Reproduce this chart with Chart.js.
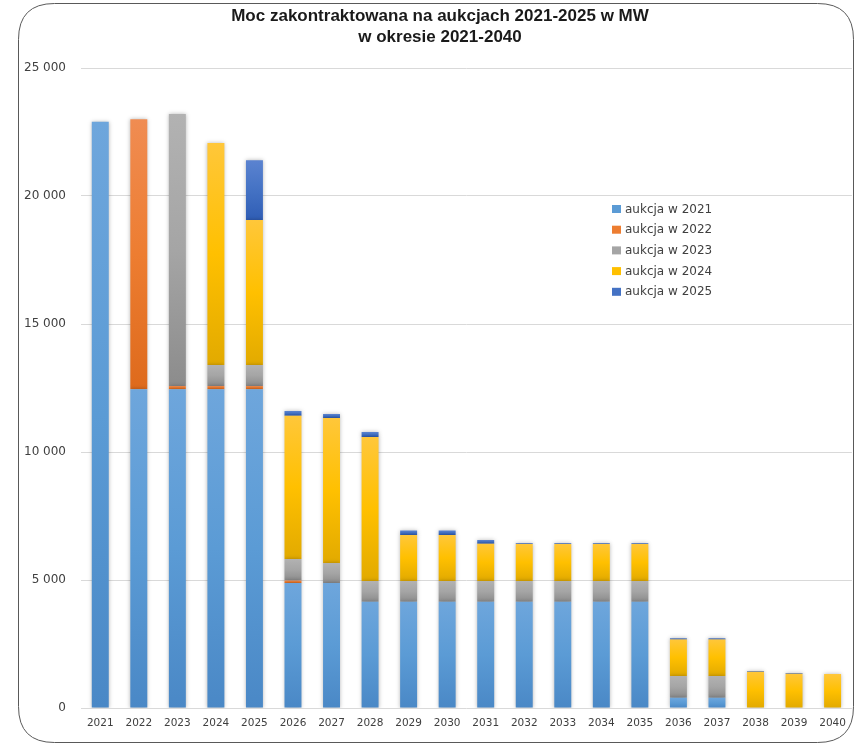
<!DOCTYPE html>
<html>
<head>
<meta charset="utf-8">
<script src="https://cdn.jsdelivr.net/npm/chart.js@4.4.1/dist/chart.umd.min.js"></script>
<style>
  html, body { margin: 0; padding: 0; background: #ffffff; }
  #wrap { width: 855px; height: 745px; position: relative; }
</style>
</head>
<body>
<div id="wrap"><canvas id="c" width="855" height="745"></canvas></div>
<script>
// Years on the x axis
const years = ['2021','2022','2023','2024','2025','2026','2027','2028','2029','2030',
               '2031','2032','2033','2034','2035','2036','2037','2038','2039','2040'];

// Contracted capacity (MW) by auction year
const auction2021 = [22900, 12450, 12450, 12450, 12450, 4880, 4880, 4150, 4150, 4150,
                     4150, 4150, 4150, 4150, 4150, 400, 400, 0, 0, 0];
const auction2022 = [0, 10550, 130, 130, 130, 100, 0, 0, 0, 0,
                     0, 0, 0, 0, 0, 0, 0, 0, 0, 0];
const auction2023 = [0, 0, 10620, 820, 820, 840, 780, 810, 810, 810,
                     810, 810, 810, 810, 810, 850, 850, 0, 0, 0];
const auction2024 = [0, 0, 0, 8670, 5660, 5600, 5670, 5630, 1800, 1800,
                     1460, 1450, 1450, 1450, 1450, 1430, 1430, 1420, 1340, 1330];
const auction2025 = [0, 0, 0, 0, 2340, 180, 150, 190, 170, 170,
                     140, 30, 30, 30, 30, 40, 40, 30, 30, 0];

const seriesLabels = ['aukcja w 2021', 'aukcja w 2022', 'aukcja w 2023', 'aukcja w 2024', 'aukcja w 2025'];
const seriesData = [auction2021, auction2022, auction2023, auction2024, auction2025];

// Base colour plus top/bottom gradient stops for each series
const palette = [
  { base: '#5B9BD5', top: '#6EA6DC', bottom: '#4A88C6' },
  { base: '#ED7D31', top: '#F08C52', bottom: '#DE6A1C' },
  { base: '#A5A5A5', top: '#B2B2B2', bottom: '#8C8C8C' },
  { base: '#FFC000', top: '#FFC73A', bottom: '#E2AA00' },
  { base: '#4472C4', top: '#5B83D0', bottom: '#2F5DB5' }
];

const yTicks = [0, 5000, 10000, 15000, 20000, 25000];

function segmentFill(ctx) {
  const pal = palette[ctx.datasetIndex];
  if (ctx.type !== 'data') return pal.base;
  const chart = ctx.chart;
  const yScale = chart.scales && chart.scales.y;
  if (!yScale || !chart.chartArea) return pal.base;
  const i = ctx.dataIndex;
  let start = 0;
  for (let k = 0; k < ctx.datasetIndex; k++) start += seriesData[k][i];
  const end = start + seriesData[ctx.datasetIndex][i];
  const yTop = yScale.getPixelForValue(end);
  const yBot = yScale.getPixelForValue(start);
  if (!isFinite(yTop) || !isFinite(yBot) || yBot - yTop < 1) return pal.base;
  const g = chart.ctx.createLinearGradient(0, yTop, 0, yBot);
  g.addColorStop(0, pal.top);
  g.addColorStop(0.5, pal.base);
  g.addColorStop(1, pal.bottom);
  return g;
}

// Rounded outer frame and title
const framePlugin = {
  id: 'frame',
  afterDraw(chart) {
    const c = chart.ctx;
    c.save();
    const x0 = 18.5, y0 = 3.5, x1 = 853.5, y1 = 742.5, r = 36;
    c.beginPath();
    c.moveTo(x0 + r, y0);
    c.lineTo(x1 - r, y0);
    c.quadraticCurveTo(x1, y0, x1, y0 + r);
    c.lineTo(x1, y1 - r);
    c.quadraticCurveTo(x1, y1, x1 - r, y1);
    c.lineTo(x0 + r, y1);
    c.quadraticCurveTo(x0, y1, x0, y1 - r);
    c.lineTo(x0, y0 + r);
    c.quadraticCurveTo(x0, y0, x0 + r, y0);
    c.closePath();
    c.strokeStyle = '#595959';
    c.lineWidth = 1;
    c.stroke();

    c.fillStyle = '#1a1a1a';
    c.font = 'bold 17px "Liberation Sans", Arial, sans-serif';
    c.textAlign = 'center';
    c.textBaseline = 'middle';
    c.fillText('Moc zakontraktowana na aukcjach 2021-2025 w MW', 440, 16);
    c.fillText('w okresie 2021-2040', 440, 37);
    c.restore();
  }
};

// Legend placed inside the plot area
const legendPlugin = {
  id: 'innerLegend',
  afterDatasetsDraw(chart) {
    const c = chart.ctx;
    c.save();
    c.font = '12px "DejaVu Sans", sans-serif';
    c.textBaseline = 'middle';
    c.textAlign = 'left';
    const x = 612, yStart = 209, step = 20.7;
    chart.data.datasets.forEach((ds, i) => {
      const y = yStart + i * step;
      c.fillStyle = palette[i].base;
      c.fillRect(x, y - 4, 9, 8);
      c.fillStyle = '#404040';
      c.fillText(ds.label, x + 13, y + 0.5);
    });
    c.restore();
  }
};

// Soft shadow around the bars
const shadowPlugin = {
  id: 'barShadow',
  beforeDatasetsDraw(chart) {
    const c = chart.ctx;
    c.save();
    c.shadowColor = 'rgba(0,0,0,0.28)';
    c.shadowBlur = 4;
    c.shadowOffsetX = 0;
    c.shadowOffsetY = 0;
  },
  afterDatasetsDraw(chart) {
    chart.ctx.restore();
  }
};

new Chart(document.getElementById('c'), {
  type: 'bar',
  data: {
    labels: years,
    datasets: seriesData.map((d, i) => ({
      label: seriesLabels[i],
      data: d,
      backgroundColor: segmentFill,
      borderWidth: 0,
      categoryPercentage: 1.0,
      barPercentage: 0.44
    }))
  },
  options: {
    responsive: false,
    animation: false,
    layout: { padding: { top: 68, right: 2, left: 0, bottom: 0 } },
    plugins: {
      legend: { display: false },
      title: { display: false },
      tooltip: { enabled: false }
    },
    scales: {
      x: {
        stacked: true,
        grid: { display: false, drawTicks: false },
        border: { display: false },
        ticks: {
          color: '#404040',
          font: { family: '"DejaVu Sans", sans-serif', size: 10.5 },
          padding: 9,
          maxRotation: 0,
          autoSkip: false
        },
        afterFit(scale) { scale.height = 37; }
      },
      y: {
        stacked: true,
        min: 0,
        max: 25000,
        afterBuildTicks(scale) { scale.ticks = yTicks.map(v => ({ value: v })); },
        grid: { color: '#d9d9d9', lineWidth: 1, drawTicks: false },
        border: { display: false },
        ticks: {
          color: '#404040',
          font: { family: '"DejaVu Sans", sans-serif', size: 12 },
          padding: 15,
          callback: v => String(v).replace(/\B(?=(\d{3})+(?!\d))/g, ' ')
        },
        afterFit(scale) { scale.width = 81; }
      }
    }
  },
  plugins: [shadowPlugin, legendPlugin, framePlugin]
});
</script>
</body>
</html>
